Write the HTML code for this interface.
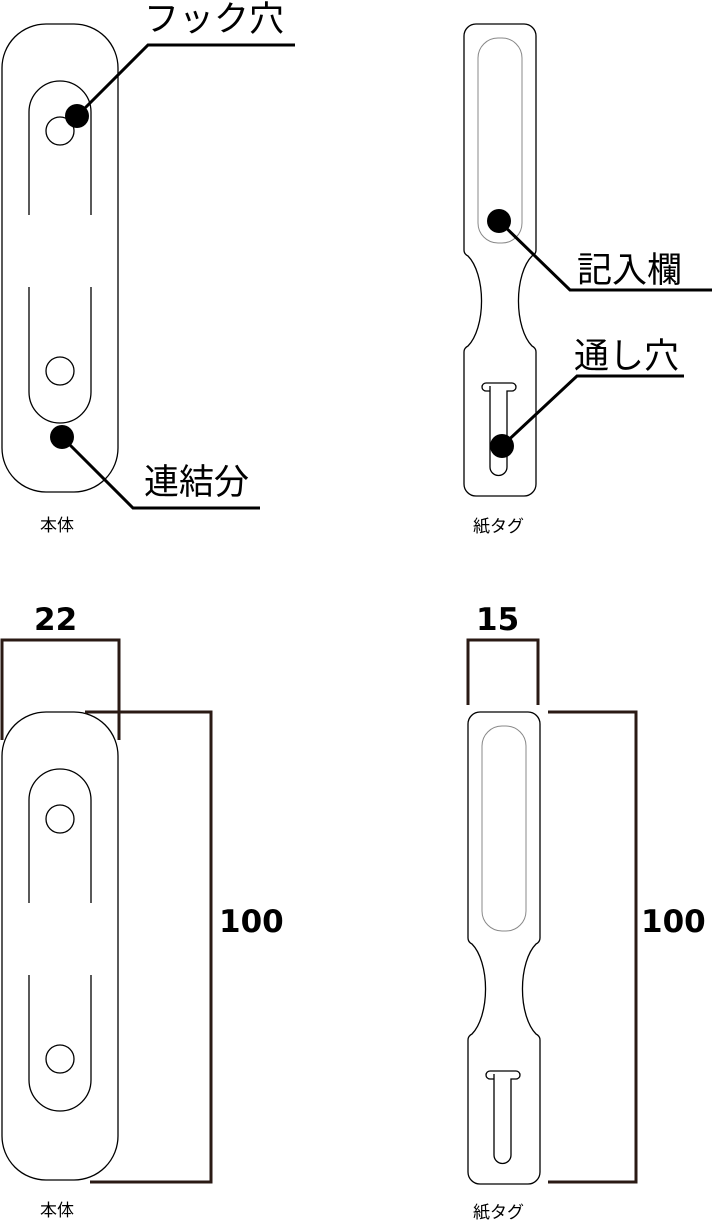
<!DOCTYPE html>
<html><head><meta charset="utf-8"><style>
html,body{margin:0;padding:0;background:#fff;}
svg{display:block;}
text{font-family:"Liberation Sans","Noto Sans CJK JP",sans-serif;fill:#000;}
.num{font-family:"DejaVu Sans",sans-serif;font-weight:bold;}
</style></head><body>
<svg width="712" height="1225" viewBox="0 0 712 1225" xmlns="http://www.w3.org/2000/svg">
<defs>
<g id="body" fill="none" stroke="#000" stroke-width="1.3">
  <rect x="2" y="0" width="116" height="468" rx="44" ry="44" fill="#fff"/>
  <path d="M29,191 V88 A31,31 0 0 1 91,88 V191"/>
  <path d="M29,263 V368 A31,31 0 0 0 91,368 V263"/>
  <circle cx="60" cy="107" r="14"/>
  <circle cx="60" cy="347" r="14"/>
</g>
<g id="tag" fill="none" stroke="#000" stroke-width="1.3">
  <path fill="#fff" d="M12,0 H60 A12,12 0 0 1 72,12 V226 Q72,230 68,232 A24,50 0 0 0 68,322 Q72,324 72,328 V460 A12,12 0 0 1 60,472 H12 A12,12 0 0 1 0,460 V328 Q0,324 4,322 A24,50 0 0 0 4,232 Q0,230 0,226 V12 A12,12 0 0 1 12,0 Z"/>
  <rect x="14" y="14" width="44" height="205" rx="20" ry="20" stroke="#888" stroke-width="1"/>
  <path d="M26,362 V367 H22 A4,4 0 0 1 22,359 H48 A4,4 0 0 1 48,367 H43 V443 A8.5,8.5 0 0 1 26,443 Z"/>
</g>
</defs>

<use href="#body" transform="translate(0,24)"/>
<circle cx="77" cy="116" r="12" fill="#000"/>
<circle cx="62" cy="437" r="12" fill="#000"/>
<polyline points="77,116 148,45 295,45" fill="none" stroke="#000" stroke-width="3"/>
<polyline points="62,437 133,508 260,508" fill="none" stroke="#000" stroke-width="3"/>
<text x="144" y="31" font-size="35">フック穴</text>
<text x="144" y="494" font-size="35">連結分</text>
<text x="40" y="531" font-size="17">本体</text>

<use href="#tag" transform="translate(464,24)"/>
<circle cx="499" cy="221" r="12" fill="#000"/>
<circle cx="502" cy="446" r="12" fill="#000"/>
<polyline points="499,221 570,290 712,290" fill="none" stroke="#000" stroke-width="3"/>
<polyline points="502,446 577,376 684,376" fill="none" stroke="#000" stroke-width="3"/>
<text x="577" y="282" font-size="35">記入欄</text>
<text x="574" y="368" font-size="35">通し穴</text>
<text x="473" y="532" font-size="17">紙タグ</text>

<polyline points="2,740 2,640 119,640 119,740" fill="none" stroke="#2a1a14" stroke-width="3"/>
<use href="#body" transform="translate(0,712)"/>
<polyline points="85,712 211,712 211,1182 90,1182" fill="none" stroke="#2a1a14" stroke-width="3"/>
<text class="num" x="34" y="630" font-size="31">22</text>
<text class="num" x="219" y="932" font-size="31">100</text>
<text x="40" y="1216" font-size="17">本体</text>

<polyline points="468,705 468,640 538,640 538,705" fill="none" stroke="#2a1a14" stroke-width="3"/>
<use href="#tag" transform="translate(468,712)"/>
<polyline points="548,712 636,712 636,1182 548,1182" fill="none" stroke="#2a1a14" stroke-width="3"/>
<text class="num" x="476" y="630" font-size="31">15</text>
<text class="num" x="641" y="932" font-size="31">100</text>
<text x="473" y="1218" font-size="17">紙タグ</text>
</svg>
</body></html>
